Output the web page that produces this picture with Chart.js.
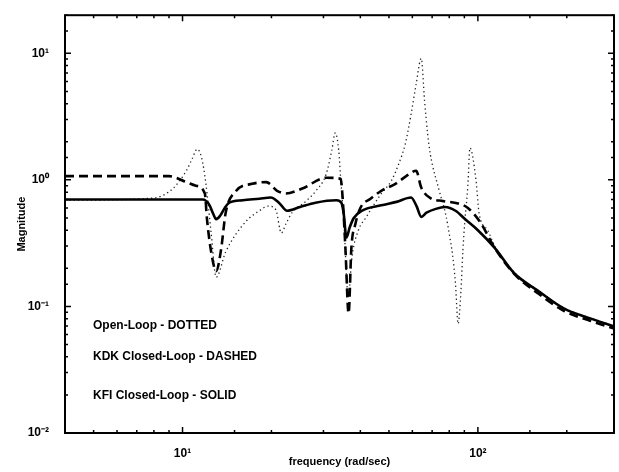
<!DOCTYPE html>
<html>
<head>
<meta charset="utf-8">
<script src="https://cdn.jsdelivr.net/npm/chart.js@4/dist/chart.umd.min.js"></script>
<style>
    html, body { margin: 0; padding: 0; background: #fff; }
    #wrap { width: 619px; height: 472px; position: relative; }
</style>
</head>
<body>
<div id="wrap"><canvas id="bode"></canvas></div>
<script>
// --- DATA ---
const xRange = [4, 289];          // rad/sec
const yRange = [0.01, 20];        // magnitude

// KFI closed-loop (solid)
const kfiFreq = [4, 8, 10, 11, 11.7, 12.3, 12.7, 13.0, 13.4, 13.9, 14.4, 16, 18.2, 19.9, 21.2, 22.6, 25, 28.2, 33.2, 34.5, 35.1, 35.9, 36.8, 38, 40.4, 47.1, 53, 59.4, 62, 64.3, 67, 72, 77.4, 84, 90.4, 100, 114, 133, 159, 196, 240, 289];
const kfiMag  = [0.70, 0.70, 0.70, 0.70, 0.70, 0.64, 0.54, 0.49, 0.52, 0.60, 0.66, 0.69, 0.71, 0.725, 0.66, 0.57, 0.61, 0.66, 0.69, 0.66, 0.55, 0.35, 0.42, 0.50, 0.57, 0.63, 0.67, 0.725, 0.62, 0.51, 0.55, 0.59, 0.61, 0.57, 0.49, 0.40, 0.29, 0.182, 0.134, 0.096, 0.0805, 0.0697];

// KDK closed-loop (dashed)
const kdkFreq = [4, 9.0, 10.3, 11.1, 11.9, 12.1, 12.5, 13.0, 13.5, 14.0, 15.2, 17.2, 19.2, 20.9, 22.4, 25.3, 30.8, 34.3, 34.8, 35.6, 36.5, 37.3, 38.5, 40.0, 43.3, 47.1, 52.6, 57.2, 61.8, 64.3, 68.9, 76.2, 85.7, 92.5, 102, 114, 133, 159, 196, 240, 289];
const kdkMag  = [1.07, 1.07, 0.96, 0.90, 0.78, 0.49, 0.27, 0.19, 0.28, 0.55, 0.82, 0.93, 0.96, 0.82, 0.78, 0.85, 1.04, 1.02, 0.75, 0.29, 0.088, 0.29, 0.45, 0.60, 0.71, 0.82, 0.93, 1.07, 1.18, 0.87, 0.72, 0.68, 0.65, 0.60, 0.46, 0.29, 0.18, 0.128, 0.092, 0.077, 0.067];

// Open-loop (dotted)
const olFreq = [4, 8, 9.25, 10.3, 10.8, 11.2, 11.6, 12.0, 12.5, 13.0, 14.0, 16.4, 18.2, 19.5, 20.7, 21.6, 22.4, 23.5, 26.2, 28.3, 30.6, 32.0, 32.9, 33.8, 34.3, 35.2, 36.4, 37.5, 39.4, 41.7, 47.1, 50.9, 53.9, 56.8, 59.4, 61.8, 64.3, 66, 67.6, 69, 74, 78, 80, 82, 84, 85.7, 87.6, 89, 90.4, 92.5, 94, 98.6, 101, 108, 114, 133, 159, 196, 240, 289];
const olMag  = [0.69, 0.72, 0.85, 1.18, 1.48, 1.75, 1.5, 0.93, 0.38, 0.17, 0.27, 0.47, 0.57, 0.62, 0.58, 0.38, 0.45, 0.55, 0.68, 0.82, 1.1, 1.7, 2.35, 1.7, 1.04, 0.45, 0.12, 0.25, 0.40, 0.50, 0.78, 0.98, 1.33, 1.93, 3.3, 5.7, 9.1, 4.2, 2.3, 1.6, 0.82, 0.52, 0.375, 0.26, 0.15, 0.073, 0.13, 0.28, 0.48, 0.9, 1.79, 0.98, 0.54, 0.40, 0.30, 0.185, 0.135, 0.097, 0.081, 0.070];

const notes = ['Open-Loop - DOTTED', 'KDK Closed-Loop - DASHED', 'KFI Closed-Loop - SOLID'];

// --- HELPERS ---
const SUP = { '-': '⁻', '0': '⁰', '1': '¹', '2': '²', '3': '³', '4': '⁴', '5': '⁵', '6': '⁶', '7': '⁷', '8': '⁸', '9': '⁹' };
const isDecade = (v) => Math.abs(Math.log10(v) - Math.round(Math.log10(v))) < 1e-9;
const decadeLabel = (v) => isDecade(v) ? '10' + String(Math.round(Math.log10(v))).split('').map(c => SUP[c]).join('') : '';
const toPoints = (xs, ys) => xs.map((x, i) => ({ x, y: ys[i] }));
const FONT = '"Liberation Sans", Arial, sans-serif';

// box + inward ticks on all four sides, and the in-plot notes
const framePlugin = {
    id: 'frame',
    afterDraw(chart) {
        const { ctx, chartArea: a, scales } = chart;
        ctx.save();
        ctx.strokeStyle = '#000';
        ctx.lineWidth = 2;
        ctx.strokeRect(a.left, a.top, a.right - a.left, a.bottom - a.top);

        ctx.lineWidth = 1.5;
        ctx.beginPath();
        scales.x.ticks.forEach(t => {
            const px = scales.x.getPixelForValue(t.value);
            const len = isDecade(t.value) ? 6 : 3;
            ctx.moveTo(px, a.bottom); ctx.lineTo(px, a.bottom - len);
            ctx.moveTo(px, a.top); ctx.lineTo(px, a.top + len);
        });
        scales.y.ticks.forEach(t => {
            const py = scales.y.getPixelForValue(t.value);
            const len = isDecade(t.value) ? 6 : 3;
            ctx.moveTo(a.left, py); ctx.lineTo(a.left + len, py);
            ctx.moveTo(a.right, py); ctx.lineTo(a.right - len, py);
        });
        ctx.stroke();

        ctx.fillStyle = '#000';
        ctx.font = `bold 12px ${FONT}`;
        ctx.textBaseline = 'middle';
        const noteY = [326, 357, 396];
        notes.forEach((txt, i) => ctx.fillText(txt, a.left + 28, noteY[i]));
        ctx.restore();
    }
};

// --- CHART ---
function renderChart() {
    const ctx = document.getElementById('bode').getContext('2d');
    const common = { fill: false, pointRadius: 0, cubicInterpolationMode: 'monotone', borderColor: '#000' };

    return new Chart(ctx, {
        type: 'line',
        data: {
            datasets: [
                { ...common, label: 'KFI Closed-Loop', data: toPoints(kfiFreq, kfiMag), borderWidth: 2.6 },
                { ...common, label: 'KDK Closed-Loop', data: toPoints(kdkFreq, kdkMag), borderWidth: 2.6, borderDash: [9, 5] },
                { ...common, label: 'Open-Loop', data: toPoints(olFreq, olMag), borderWidth: 1.3, borderDash: [1.3, 3], borderColor: '#222' },
            ]
        },
        options: {
            responsive: true,
            maintainAspectRatio: false,
            animation: false,
            layout: { padding: { top: 13, right: 3, left: 0, bottom: 0 } },
            plugins: { legend: { display: false }, tooltip: { enabled: false } },
            scales: {
                x: {
                    type: 'logarithmic',
                    min: xRange[0], max: xRange[1],
                    grid: { display: false },
                    border: { display: false },
                    afterFit: (s) => { s.height = 39; },
                    ticks: {
                        autoSkip: false, maxRotation: 0, padding: 5, color: '#000',
                        font: { family: FONT, size: 12, weight: 'bold' },
                        callback: (v) => decadeLabel(v),
                    },
                    title: { display: true, text: 'frequency (rad/sec)', color: '#000', padding: { top: 0, bottom: 3 }, font: { family: FONT, size: 11, weight: 'bold' } },
                },
                y: {
                    type: 'logarithmic',
                    min: yRange[0], max: yRange[1],
                    grid: { display: false },
                    border: { display: false },
                    afterFit: (s) => { s.width = 65; },
                    ticks: {
                        autoSkip: false, padding: 8, color: '#000',
                        font: { family: FONT, size: 12, weight: 'bold' },
                        callback: (v) => decadeLabel(v),
                    },
                    title: { display: true, text: 'Magnitude', color: '#000', padding: { top: 15, bottom: 0 }, font: { family: FONT, size: 11, weight: 'bold' } },
                },
            },
        },
        plugins: [framePlugin],
    });
}

renderChart();
</script>
</body>
</html>
